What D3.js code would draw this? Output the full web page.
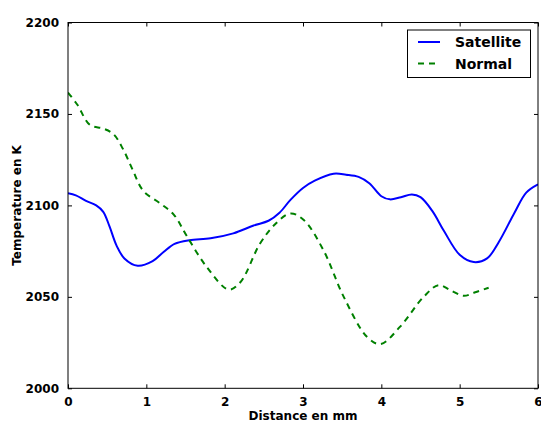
<!DOCTYPE html>
<html><head><meta charset="utf-8">
<script src="https://cdn.jsdelivr.net/npm/d3@7"></script>
<style>body{margin:0;background:#fff}text{font-family:"DejaVu Sans",sans-serif;font-weight:bold}</style>
</head><body><svg id="c" width="541" height="423"></svg>
<script>
const satX = [0,0.1,0.23,0.36,0.45,0.53,0.62,0.72,0.89,1.08,1.22,1.36,1.55,1.82,2.11,2.37,2.56,2.7,2.84,3.0,3.15,3.39,3.55,3.71,3.85,4.0,4.11,4.25,4.39,4.5,4.65,4.8,5.0,5.18,5.35,5.5,5.7,5.85,6.0];
const satY = [2106.7,2105.5,2102.5,2100,2096.5,2088.5,2078,2071,2067,2069.5,2074.5,2079,2081,2082,2084.7,2089,2091.6,2096,2103,2109.5,2113.5,2117.3,2116.8,2115.6,2112,2105,2103.3,2104.5,2106,2104.5,2097,2086,2073,2069,2071,2080,2096,2107,2111.5];
const normX = [0,0.12,0.28,0.45,0.58,0.7,0.82,0.96,1.18,1.35,1.52,1.77,2.05,2.2,2.45,2.65,2.84,3.01,3.26,3.52,3.82,3.99,4.24,4.54,4.73,4.88,5.05,5.2,5.37];
const normY = [2161.7,2155,2144,2142,2139,2131,2120,2108,2101,2095,2083,2066.4,2054,2058,2079,2090,2095.6,2092,2075.6,2050,2028,2024.2,2033.7,2050,2056.4,2053.7,2050.6,2052.5,2055];
const xTicks = [0,1,2,3,4,5,6];
const yTicks = [2000,2050,2100,2150,2200];

const svg = d3.select("#c");
const L=68, R=538, T=22.5, B=388.3;
const x = d3.scaleLinear().domain([0,6]).range([L,R]);
const y = d3.scaleLinear().domain([2000,2200]).range([B,T]);

const g = svg.append("g");
svg.append("clipPath").attr("id","cp").append("rect").attr("x",L).attr("y",T).attr("width",R-L).attr("height",B-T);

const line = d3.line().x(d=>x(d[0])).y(d=>y(d[1])).curve(d3.curveCatmullRom.alpha(0.5));
g.append("path").datum(satX.map((v,i)=>[v,satY[i]])).attr("d",line)
 .attr("fill","none").attr("stroke","#0000ff").attr("stroke-width",2).attr("clip-path","url(#cp)");
g.append("path").datum(normX.map((v,i)=>[v,normY[i]])).attr("d",line)
 .attr("fill","none").attr("stroke","#008000").attr("stroke-width",2).attr("stroke-dasharray","6,5").attr("clip-path","url(#cp)");

svg.append("rect").attr("x",L).attr("y",T).attr("width",R-L).attr("height",B-T).attr("fill","none").attr("stroke","#000").attr("stroke-width",1);

const xb = svg.append("g").attr("transform",`translate(0,${B})`).call(d3.axisBottom(x).tickValues(xTicks).tickSize(-4).tickPadding(9).tickFormat(d3.format("d")));
const xt = svg.append("g").attr("transform",`translate(0,${T})`).call(d3.axisTop(x).tickValues(xTicks).tickSize(-4).tickFormat(""));
const yl = svg.append("g").attr("transform",`translate(${L},0)`).call(d3.axisLeft(y).tickValues(yTicks).tickSize(-4).tickPadding(9).tickFormat(d3.format("d")));
const yr = svg.append("g").attr("transform",`translate(${R},0)`).call(d3.axisRight(y).tickValues(yTicks).tickSize(-4).tickFormat(""));
[xb,xt,yl,yr].forEach(a=>{a.select(".domain").remove();a.selectAll("text").attr("font-size",12).attr("font-family","DejaVu Sans").attr("font-weight","bold").attr("fill","#000");a.selectAll("line").attr("stroke","#000");});

svg.append("text").attr("x",(L+R)/2).attr("y",420).attr("text-anchor","middle").attr("font-size",12).text("Distance en mm");
svg.append("text").attr("transform",`translate(21,${(T+B)/2}) rotate(-90)`).attr("text-anchor","middle").attr("font-size",12).text("Temperature en K");

const lg = svg.append("g");
lg.append("rect").attr("x",407.5).attr("y",30).attr("width",123).attr("height",47.5).attr("fill","#fff").attr("stroke","#000").attr("stroke-width",1);
const names=["Satellite","Normal"], cols=["#0000ff","#008000"], dash=[null,"6,5"];
names.forEach((n,i)=>{
  const yy = 42 + i*21.5;
  lg.append("line").attr("x1",418).attr("x2",440).attr("y1",yy).attr("y2",yy).attr("stroke",cols[i]).attr("stroke-width",2).attr("stroke-dasharray",dash[i]);
  lg.append("text").attr("x",455).attr("y",yy+5).attr("font-size",14).text(n);
});
</script></body></html>
